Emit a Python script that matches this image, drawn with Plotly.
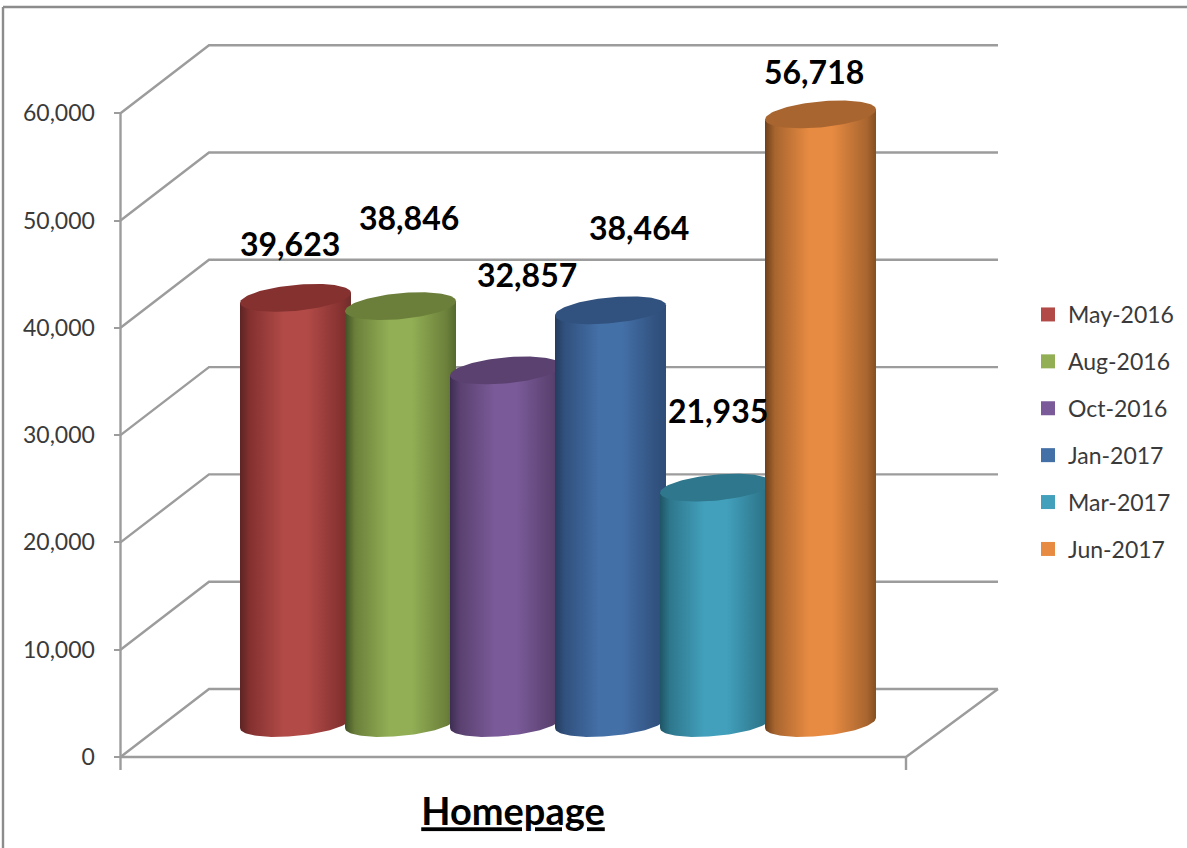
import numpy as np
import plotly.graph_objects as go

# ---- data ----
categories = ["May-2016", "Aug-2016", "Oct-2016", "Jan-2017", "Mar-2017", "Jun-2017"]
values = [39623, 38846, 32857, 38464, 21935, 56718]
tick_values = [0, 10000, 20000, 30000, 40000, 50000, 60000]

# ---- styling ----
body_colors = ["#B24B48", "#92AF55", "#7A5A98", "#4470A8", "#42A0BC", "#E88B42"]
edge_left = ["#5C2423", "#3F5025", "#3E2D52", "#243C5E", "#1F5566", "#6E3F1A"]
edge_right = ["#6E2D2B", "#55692F", "#4B3763", "#2F4D78", "#2B6A7E", "#85501F"]
top_colors = ["#843130", "#6B7F3A", "#5A4170", "#31517E", "#2E778C", "#A8652F"]
label_shift = [(-6, -54), (8, -89), (21, -96), (28, -83), (2, -77), (-7, -43)]
FONT = "Lato"
GRID = "#9C9C9C"
TEXT = "#3A3A3A"
W, H = 1187, 848

PX_X = 105.0        # pixels per category
PX_Y = 0.01073      # pixels per value unit
X0, Y0 = 295.5, 757.0  # pixel of category 0, pixel of value 0
FL, BL, FR, BR = [(p - X0) / PX_X for p in (120.5, 209, 906, 998)]
DEPTH = 68 / PX_Y
BASE = 34 / PX_Y
A = 55.5 / PX_X
SHEAR = 5 / PX_Y
B = 13 / PX_Y

fig = go.Figure()

# gridlines across side wall and back wall
for v in tick_values:
    fig.add_trace(go.Scatter(x=[FL, BL, BR], y=[v, v + DEPTH, v + DEPTH], mode="lines",
                             line=dict(color=GRID, width=2.4), showlegend=False, hoverinfo="skip"))
# floor edge + front axes
fig.add_trace(go.Scatter(x=[FL, FR, BR], y=[0, 0, DEPTH], mode="lines",
                         line=dict(color=GRID, width=2.4), showlegend=False, hoverinfo="skip"))
fig.add_trace(go.Scatter(x=[FL, FL], y=[tick_values[-1], -13 / PX_Y], mode="lines",
                         line=dict(color=GRID, width=2.4), showlegend=False, hoverinfo="skip"))
fig.add_trace(go.Scatter(x=[FR, FR], y=[0, -13 / PX_Y], mode="lines",
                         line=dict(color=GRID, width=2.4), showlegend=False, hoverinfo="skip"))

t_low = np.linspace(np.pi, 2 * np.pi, 60)
t_full = np.linspace(0, 2 * np.pi, 120)
for i, (cat, val) in enumerate(zip(categories, values)):
    top = val + BASE
    bx = i + A * np.cos(t_low)
    by = BASE + SHEAR * np.cos(t_low) + B * np.sin(t_low)
    xs = np.concatenate([bx, [i + A, i - A, bx[0]]])
    ys = np.concatenate([by, [top + SHEAR, top - SHEAR, by[0]]])
    fig.add_trace(go.Scatter(
        x=xs, y=ys, mode="lines", line=dict(width=0, color=body_colors[i]), fill="toself",
        fillgradient=dict(type="horizontal", start=i - A, stop=i + A, colorscale=[
            [0, edge_left[i]], [0.09, top_colors[i]], [0.4, body_colors[i]],
            [0.6, body_colors[i]], [0.92, top_colors[i]], [1, edge_right[i]]]),
        showlegend=False, hoverinfo="skip"))
    fig.add_trace(go.Scatter(
        x=i + A * np.cos(t_full), y=top + SHEAR * np.cos(t_full) + B * np.sin(t_full),
        mode="lines", line=dict(width=0, color=top_colors[i]), fill="toself",
        fillcolor=top_colors[i], showlegend=False, hoverinfo="skip"))
    # legend entry
    fig.add_trace(go.Scatter(x=[None], y=[None], mode="markers", name=cat, legendgroup=cat,
                             marker=dict(symbol="square", size=14, color=body_colors[i])))
    fig.add_annotation(x=i, y=top, xref="x", yref="y", text=f"<b>{val:,}</b>", showarrow=False,
                       xshift=label_shift[i][0], yshift=-label_shift[i][1],
                       font=dict(family=FONT, size=32, color="#000000"))

# chart frame
fig.add_shape(type="line", xref="paper", yref="paper", x0=3 / W, x1=3 / W, y0=0, y1=1 - 7 / H,
              line=dict(color="#8C8C8C", width=2.4))
fig.add_shape(type="line", xref="paper", yref="paper", x0=3 / W, x1=1, y0=1 - 7 / H, y1=1 - 7 / H,
              line=dict(color="#8C8C8C", width=2.4))

fig.update_layout(
    width=W, height=H, margin=dict(l=0, r=0, t=0, b=0, pad=0),
    plot_bgcolor="white", paper_bgcolor="white", font=dict(family=FONT, color=TEXT),
    title=dict(text="<b><u>Homepage</u></b>", x=513 / W, y=1 - 812 / H, xanchor="center", yanchor="middle",
               xref="paper", yref="paper", font=dict(family=FONT, size=38, color="#000000")),
    xaxis=dict(visible=False, range=[(0 - X0) / PX_X, (W - X0) / PX_X], domain=[0, 1], fixedrange=True),
    yaxis=dict(range=[(Y0 - H) / PX_Y, Y0 / PX_Y], domain=[0, 1], anchor="free", position=120.5 / W,
               tickvals=tick_values, tickformat=",", ticks="outside", ticklen=7, tickwidth=2,
               tickcolor=GRID, showgrid=False, zeroline=False, showline=False, fixedrange=True,
               ticklabelstandoff=14, tickfont=dict(family=FONT, size=23, color=TEXT)),
    legend=dict(x=1028 / W, y=1 - 293 / H, xanchor="left", yanchor="top", tracegroupgap=14,
                font=dict(family=FONT, size=23, color=TEXT), bgcolor="rgba(0,0,0,0)", itemclick=False),
    showlegend=True,
)

fig.write_html("out.html", config=dict(displayModeBar=False),
               post_script="document.body.style.margin='0';")
